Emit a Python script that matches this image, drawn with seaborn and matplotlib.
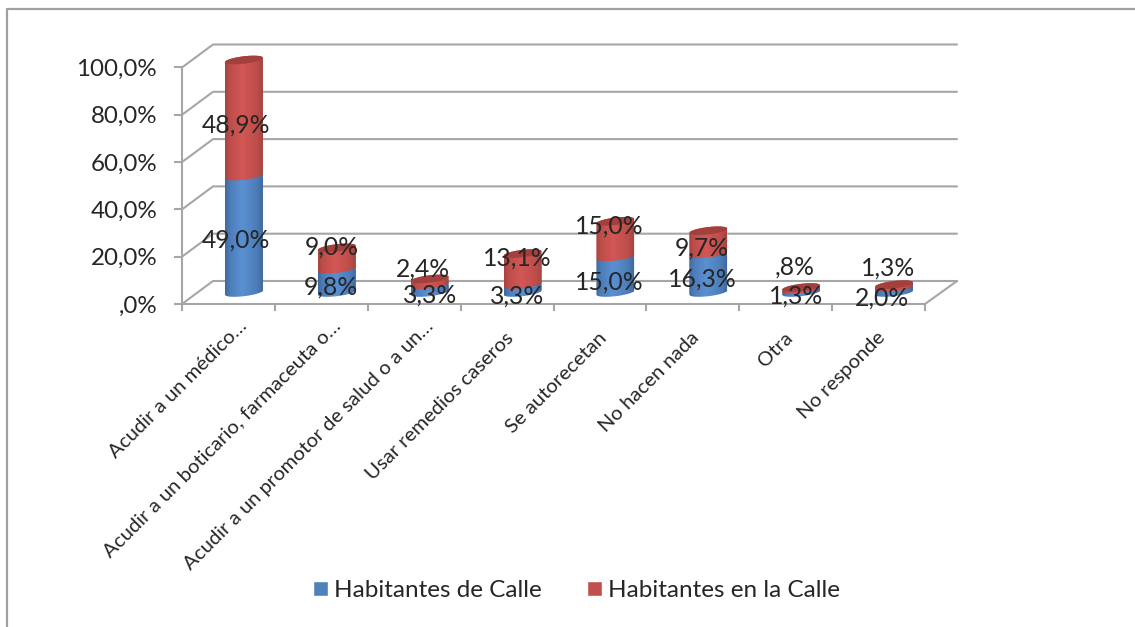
# encoding=utf-8

import numpy as np
import seaborn as sns
import matplotlib.pyplot as plt
from matplotlib.colors import to_rgb
from matplotlib.path import Path
from matplotlib.transforms import Affine2D, ScaledTranslation

W, H = 1135, 627

categories = ["Acudir a un médico…", "Acudir a un boticario, farmaceuta o…",
              "Acudir a un promotor de salud o a un…", "Usar remedios caseros",
              "Se autorecetan", "No hacen nada", "Otra", "No responde"]
blue_values = [49.0, 9.8, 3.3, 3.3, 15.0, 16.3, 1.3, 2.0]
red_values = [48.9, 9.0, 2.4, 13.1, 15.0, 9.7, 0.8, 1.3]
blue_labels = ["49,0%", "9,8%", "3,3%", "3,3%", "15,0%", "16,3%", "1,3%", "2,0%"]
red_labels = ["48,9%", "9,0%", "2,4%", "13,1%", "15,0%", "9,7%", ",8%", "1,3%"]
y_ticks = [0, 20, 40, 60, 80, 100]
y_tick_labels = [",0%", "20,0%", "40,0%", "60,0%", "80,0%", "100,0%"]
series_names = ["Habitantes de Calle", "Habitantes en la Calle"]

# label shifts in pixels, from the middle of each segment
blue_label_dx = [-7.5, -6, 0, -5.5, -6, -6, -5, -12]
blue_label_dy = [6, 6, 6, 7, 7, 6, 5.5, 8]
red_label_dx = [-7.5, -5, -7, -5.5, -6, -6, -7, -6]
red_label_dy = [7, -11, -13, -11, -13, 6, -21, -18]

sns.set_theme(style="white")
plt.rcParams['font.family'] = ['Lato', 'DejaVu Sans']

GRID = "#a6a6a6"
TEXT = "#262626"
BLUE = "#4f81bd"
RED = "#c0504d"

fig = plt.figure(figsize=(W / 100, H / 100), dpi=100)
# pixel coordinates with y going down, same as the reference picture
px = Affine2D().scale(1, -1).translate(0, H)


def axes_box(left, right, top, bottom):
    return [left / W, 1 - bottom / H, (right - left) / W, (bottom - top) / H]


# front of the chart box: ticks and tick labels
ax_front = fig.add_axes(axes_box(182, 925, 67.5, 304))
ax_front.set_xlim(-0.5, 7.5)
ax_front.set_ylim(0, 100)
ax_front.patch.set_visible(False)
sns.despine(ax=ax_front)
for side in ["left", "bottom"]:
    ax_front.spines[side].set_color(GRID)
    ax_front.spines[side].set_linewidth(1.5)
ax_front.set_yticks(y_ticks, labels=y_tick_labels)
ax_front.tick_params(axis="y", length=6, width=1.5, color=GRID, pad=12, labelsize=17.4, labelcolor=TEXT, left=True)
ax_front.set_xticks(np.arange(-0.5, 8), labels=[])
ax_front.set_xticks(range(8), labels=categories, minor=True)
ax_front.tick_params(axis="x", which="major", length=5, width=1.5, color=GRID, bottom=True)
ax_front.tick_params(axis="x", which="minor", length=0, labelsize=14.6, labelcolor=TEXT, pad=0)
for lab in ax_front.get_xticklabels(minor=True):
    # the cut labels end further along the diagonal than the whole ones
    extra = 12 if lab.get_text().endswith("…") else 0
    shift = ScaledTranslation((-2 + extra) / 100, (-25 + extra) / 100, fig.dpi_scale_trans)
    lab.set_rotation(45)
    lab.set_ha("right")
    lab.set_va("top")
    lab.set_rotation_mode("anchor")
    lab.set_transform(lab.get_transform() + shift)

# back wall and floor
for tick in y_ticks:
    y_front = 304 - 2.365 * tick
    y_back = y_front - 23
    fig.add_artist(plt.Line2D([182, 213, 957], [y_front, y_back, y_back], color=GRID, lw=1.5, transform=px))
fig.add_artist(plt.Line2D([925, 957], [304, 281], color=GRID, lw=1.5, transform=px))

# the bars sit half way into the box
ax = fig.add_axes(axes_box(197.5, 940.5, 55, 292.5))
ax.set_zorder(3)
ax.patch.set_visible(False)
sns.barplot(x=categories, y=blue_values, color=BLUE, width=0.41, saturation=1, ax=ax)
sns.barplot(x=categories, y=red_values, bottom=blue_values, color=RED, width=0.41, saturation=1, ax=ax)
ax.set_xlim(-0.5, 7.5)
ax.set_ylim(0, 100)
ax.set_autoscale_on(False)
ax.axis("off")

fig.legend([ax.containers[0], ax.containers[1]], series_names, loc="center",
           bbox_to_anchor=(576.5 / W, 1 - 590.5 / H), ncol=2, frameon=False, fontsize=17.5,
           labelcolor=TEXT, handlelength=0.62, handleheight=0.62, handletextpad=0.25, columnspacing=1.85)

u = np.linspace(-1, 1, 50)
RADIUS = 19
TILT = 2.2
DEPTH = 3.7


def to_px(x, value):
    xd, yd = ax.transData.transform((x, value))
    return xd, H - yd


def segment_path(xc, y_low, y_high):
    low = np.column_stack([xc + RADIUS * u, y_low - TILT * u + DEPTH * np.sqrt(1 - u ** 2)])
    high = np.column_stack([xc + RADIUS * u[::-1], y_high - TILT * u[::-1] - DEPTH * np.sqrt(1 - u[::-1] ** 2)])
    return Path(np.vstack([low, high, low[:1]]), closed=True)


def shade(dark, light):
    stops = np.interp(np.linspace(0, 1, 40), [0, 0.12, 0.45, 0.85, 1], [0, 0.5, 1, 0.5, 0])[None, :, None]
    return np.array(to_rgb(dark))[None, None, :] * (1 - stops) + np.array(to_rgb(light))[None, None, :] * stops


blue_shade = shade("#3f6a9f", "#5a90d2")
red_shade = shade("#a84440", "#d25755")

for level, (cont, values, grad) in enumerate([(ax.containers[0], blue_values, blue_shade),
                                              (ax.containers[1], red_values, red_shade)]):
    for i, (bar, value) in enumerate(zip(cont, values)):
        base = blue_values[i] if level == 1 else 0
        xc, y_low = to_px(i, base)
        _, y_high = to_px(i, base + value)
        shape = segment_path(xc, y_low, y_high)
        bar.set_clip_path(shape, transform=px)
        im = ax.imshow(grad, extent=(xc - RADIUS, xc + RADIUS, y_low + 10, y_high - 10), transform=px,
                       aspect="auto", zorder=2 + level)
        im.set_clip_box(fig.bbox)
        im.set_clip_path(shape, transform=px)

# darker lid on top of each stack
for i in range(8):
    xc, y_top = to_px(i, blue_values[i] + red_values[i])
    lid = np.column_stack([xc + RADIUS * np.r_[u, u[::-1]],
                           y_top - TILT * np.r_[u, u[::-1]] + DEPTH * np.r_[np.sqrt(1 - u ** 2), -np.sqrt(1 - u ** 2)]])
    ax.add_patch(plt.Polygon(lid, closed=True, fc="#a33f3c", ec="none", transform=px, zorder=4, clip_on=False))

# data labels
for i in range(8):
    xc, y_mid = to_px(i, blue_values[i] / 2)
    ax.text(xc + blue_label_dx[i], y_mid + blue_label_dy[i], blue_labels[i], transform=px, ha="center", va="center",
            fontsize=17.8, color=TEXT, zorder=6, clip_on=False)
    xc, y_mid = to_px(i, blue_values[i] + red_values[i] / 2)
    ax.text(xc + red_label_dx[i], y_mid + red_label_dy[i], red_labels[i], transform=px, ha="center", va="center",
            fontsize=17.8, color=TEXT, zorder=6, clip_on=False)

# outer frame of the pasted chart, open on the right
fig.add_artist(plt.Line2D([6.5, 6.5, W], [H, 9, 9], color="#a0a0a0", lw=1.6, transform=px))

fig.savefig("out.png", dpi=100)
